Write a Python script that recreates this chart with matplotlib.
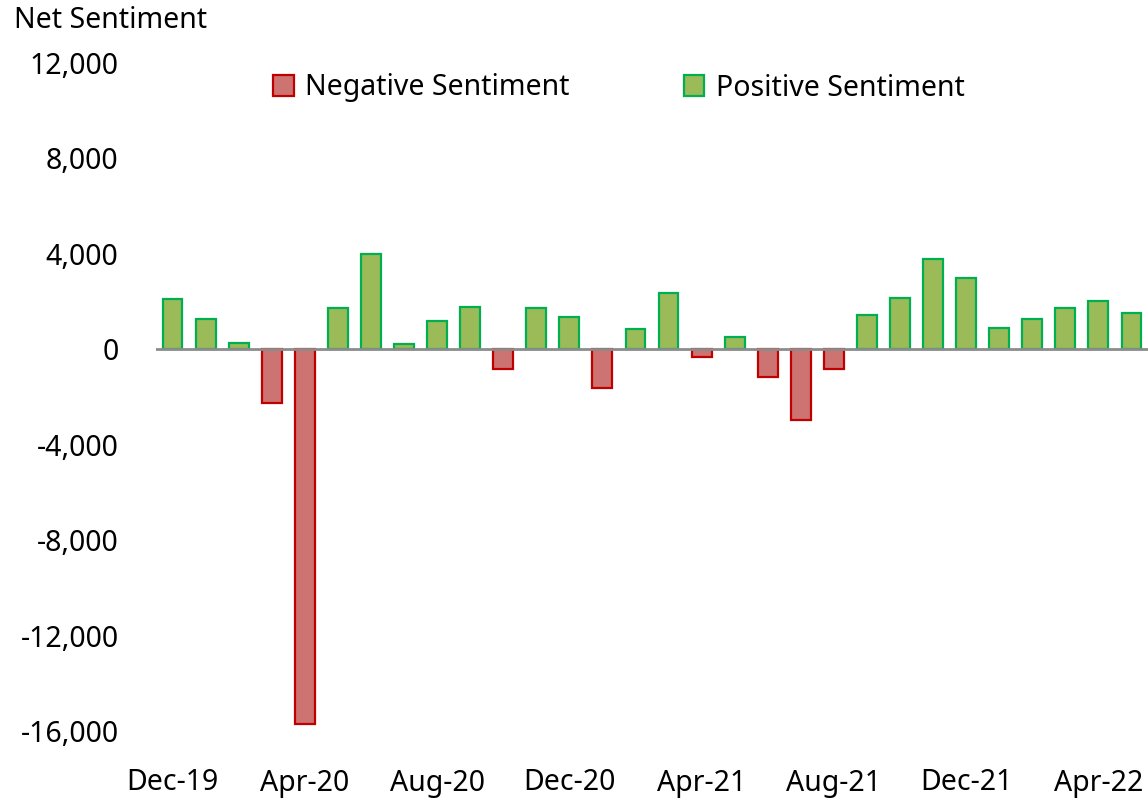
import numpy as np
import matplotlib.pyplot as plt
from matplotlib.ticker import FuncFormatter

plt.rcParams['font.family'] = ['Noto Sans', 'DejaVu Sans']

months = ['Dec-19', 'Jan-20', 'Feb-20', 'Mar-20', 'Apr-20', 'May-20', 'Jun-20', 'Jul-20',
          'Aug-20', 'Sep-20', 'Oct-20', 'Nov-20', 'Dec-20', 'Jan-21', 'Feb-21', 'Mar-21',
          'Apr-21', 'May-21', 'Jun-21', 'Jul-21', 'Aug-21', 'Sep-21', 'Oct-21', 'Nov-21',
          'Dec-21', 'Jan-22', 'Feb-22', 'Mar-22', 'Apr-22', 'May-22']
net_sentiment = [2100, 1260, 250, -2240, -15700, 1730, 4000, 210,
                 1180, 1780, -820, 1750, 1360, -1620, 850, 2350,
                 -310, 530, -1160, -2950, -830, 1430, 2130, 3800,
                 2970, 910, 1260, 1740, 2030, 1500]
yticks = [12000, 8000, 4000, 0, -4000, -8000, -12000, -16000]

vals = np.array(net_sentiment)
ind = np.arange(len(months))
neg = np.where(vals < 0, vals, 0)
pos = np.where(vals > 0, vals, 0)

fs = 20.5

fig = plt.figure(figsize=(11.48, 7.98), dpi=100)
ax = fig.add_axes([156 / 1148, 67 / 798, 1 - 156 / 1148, (731 - 63) / 798])

width = 0.6
ax.bar(ind[vals < 0], neg[vals < 0], width, color='#CD7371', edgecolor='#C00000',
       linewidth=1.6, label='Negative Sentiment', zorder=2)
ax.bar(ind[vals > 0], pos[vals > 0], width, color='#9BBB59', edgecolor='#00B050',
       linewidth=1.6, label='Positive Sentiment', zorder=2)
ax.axhline(0, color='#8C8C8C', linewidth=2, zorder=3)

ax.set_xlim(-0.5, len(months) - 0.5)
ax.set_ylim(-16000, 12000)
ax.set_yticks(yticks)
ax.yaxis.set_major_formatter(FuncFormatter(lambda v, p: f'{int(v):,}'))
ax.set_xticks(ind[::4])
ax.set_xticklabels(months[::4])
ax.tick_params(axis='y', length=0, pad=27, labelsize=fs)
ax.tick_params(axis='x', length=0, pad=27, labelsize=fs)
for s in ax.spines.values():
    s.set_visible(False)

fig.text(14 / 1148, 1 - 20 / 798, 'Net Sentiment', fontsize=fs, va='center', ha='left')

ax.legend(loc='center left', bbox_to_anchor=(273 / 1148, 1 - 88 / 798),
          bbox_transform=fig.transFigure, ncol=2, frameon=False, fontsize=fs,
          handlelength=0.72, handleheight=0.72, handletextpad=0.42,
          columnspacing=4.0, borderpad=0, borderaxespad=0)

fig.savefig('out.png', dpi=100)
